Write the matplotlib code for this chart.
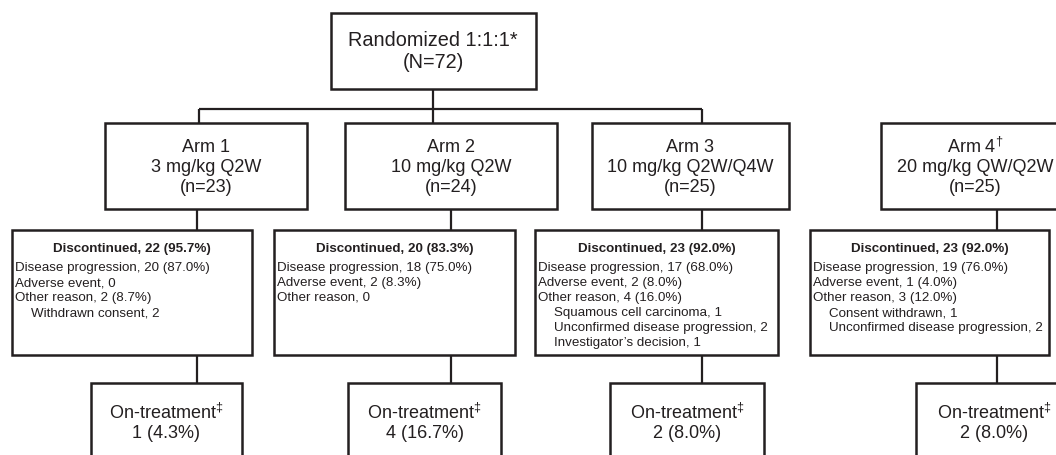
import matplotlib
matplotlib.use('Agg')
import matplotlib.pyplot as plt
from matplotlib.patches import Rectangle

plt.rcParams['font.family'] = ['Liberation Sans', 'DejaVu Sans']
plt.rcParams['mathtext.fontset'] = 'custom'
plt.rcParams['mathtext.rm'] = 'Liberation Sans'
plt.rcParams['mathtext.it'] = 'Liberation Sans'

# 数据
total_n = 72
arm_names = ['Arm 1', 'Arm 2', 'Arm 3', 'Arm 4']
arm_marks = ['', '', '', r'$^{\dag}$']
doses = ['3 mg/kg Q2W', '10 mg/kg Q2W', '10 mg/kg Q2W/Q4W', '20 mg/kg QW/Q2W']
arm_n = [23, 24, 25, 25]
disc_n = [22, 20, 23, 23]
disc_pct = [95.7, 83.3, 92.0, 92.0]
prog_n = [20, 18, 17, 19]
prog_pct = [87.0, 75.0, 68.0, 76.0]
ae_n = [0, 2, 2, 1]
ae_pct = [0.0, 8.3, 8.0, 4.0]
other_n = [2, 0, 4, 3]
other_pct = [8.7, 0.0, 16.0, 12.0]
other_detail = [['Withdrawn consent, 2'],
                [],
                ['Squamous cell carcinoma, 1', 'Unconfirmed disease progression, 2',
                 'Investigator\u2019s decision, 1'],
                ['Consent withdrawn, 1', 'Unconfirmed disease progression, 2']]
ontx_n = [1, 4, 2, 2]
ontx_pct = [4.3, 16.7, 8.0, 8.0]

# 版面位置（像素）
arm_box = [(105, 307), (345, 557), (592, 789), (881, 1069)]
arm_vx = [197, 451, 702, 997]
disc_box = [(12, 252), (274, 515), (535, 778), (810, 1049)]
ontx_box = [(91, 242), (348, 501), (610, 764), (916, 1072)]
ink = '#231f20'


def cnt(n, p):
    if n == 0:
        return '0'
    return '%d (%.1f%%)' % (n, p)


fig = plt.figure(figsize=(10.56, 4.55), dpi=100)
ax = fig.add_axes([0, 0, 1, 1])
ax.set_xlim(0, 1056)
ax.set_ylim(455, 0)
ax.axis('off')


def box(x0, x1, y0, y1):
    ax.add_patch(Rectangle((x0, y0), x1 - x0, y1 - y0, facecolor='white',
                           edgecolor=ink, lw=1.8, zorder=2))


def line(xs, ys):
    ax.plot(xs, ys, color=ink, lw=1.6, solid_capstyle='butt', zorder=1)


# 随机化框
box(331, 536, 13, 89)
ax.text(433, 40, 'Randomized 1:1:1*', ha='center', va='center', fontsize=14.3, color=ink)
ax.text(433, 63, '(N=%d)' % total_n, ha='center', va='center', fontsize=14.3, color=ink)
line([433, 433], [89, 123])
line([199, arm_vx[2]], [109, 109])
line([199, 199], [109, 123])
line([arm_vx[2], arm_vx[2]], [109, 123])

for i in range(4):
    ax0, ax1 = arm_box[i]
    cx = (ax0 + ax1) / 2
    box(ax0, ax1, 123, 209)
    ax.text(cx, 147, arm_names[i] + arm_marks[i], ha='center', va='center', fontsize=13, color=ink)
    ax.text(cx, 167, doses[i], ha='center', va='center', fontsize=13, color=ink)
    ax.text(cx, 187, '(n=%d)' % arm_n[i], ha='center', va='center', fontsize=13, color=ink)
    line([arm_vx[i], arm_vx[i]], [209, 230])

    d0, d1 = disc_box[i]
    box(d0, d1, 230, 355)
    ax.text((d0 + d1) / 2, 249, 'Discontinued, ' + cnt(disc_n[i], disc_pct[i]),
            ha='center', va='center', fontsize=9.6, fontweight='bold', color=ink)
    rows = [('Disease progression, ' + cnt(prog_n[i], prog_pct[i]), 0),
            ('Adverse event, ' + cnt(ae_n[i], ae_pct[i]), 0),
            ('Other reason, ' + cnt(other_n[i], other_pct[i]), 0)]
    rows += [(s, 1) for s in other_detail[i]]
    for k, (s, ind) in enumerate(rows):
        ax.text(d0 + 3 + ind * 16, 268 + k * 15, s, ha='left', va='center',
                fontsize=9.6, color=ink)
    line([arm_vx[i], arm_vx[i]], [355, 383])

    o0, o1 = ontx_box[i]
    box(o0, o1, 383, 475)
    ax.text((o0 + o1) / 2, 413, r'On-treatment$^{\ddag}$', ha='center', va='center',
            fontsize=13, color=ink)
    ax.text((o0 + o1) / 2, 434, cnt(ontx_n[i], ontx_pct[i]), ha='center', va='center',
            fontsize=13, color=ink)

fig.savefig('out.png', dpi=100)
